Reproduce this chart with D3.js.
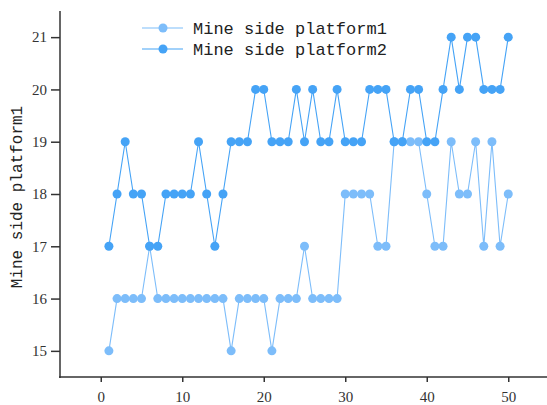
<!DOCTYPE html>
<html>
<head>
<meta charset="utf-8">
<script src="https://cdn.jsdelivr.net/npm/d3@7"></script>
<style>
  html, body { margin: 0; padding: 0; background: #fff; }
  svg { display: block; }
</style>
</head>
<body>
<svg id="chart" width="547" height="405"></svg>
<script>
// Sample index along the x axis
const xValues = d3.range(1, 51);

// Platform readings per sample
const platform1 = [
  15, 16, 16, 16, 16, 17, 16, 16, 16, 16,
  16, 16, 16, 16, 16, 15, 16, 16, 16, 16,
  15, 16, 16, 16, 17, 16, 16, 16, 16, 18,
  18, 18, 18, 17, 17, 19, 19, 19, 19, 18,
  17, 17, 19, 18, 18, 19, 17, 19, 17, 18
];
const platform2 = [
  17, 18, 19, 18, 18, 17, 17, 18, 18, 18,
  18, 19, 18, 17, 18, 19, 19, 19, 20, 20,
  19, 19, 19, 20, 19, 20, 19, 19, 20, 19,
  19, 19, 20, 20, 20, 19, 19, 20, 20, 19,
  19, 20, 21, 20, 21, 21, 20, 20, 20, 21
];

const seriesNames = ["Mine side platform1", "Mine side platform2"];
const seriesColors = ["#7dbdfa", "#45a3f6"];
const xTicks = [0, 10, 20, 30, 40, 50];
const yTicks = [15, 16, 17, 18, 19, 20, 21];
const yLabel = "Mine side platform1";

const svg = d3.select("#chart");

const x = d3.scaleLinear().domain([-5, 55]).range([60, 549]);
const y = d3.scaleLinear().domain([14.5, 21.5]).range([377, 11]);

const axisColor = "#333";
const tickFont = "'Liberation Serif', serif";
const textFont = "'Liberation Mono', monospace";

// Series lines and markers
const seriesData = [platform1, platform2];
const line = d3.line().x((d, i) => x(xValues[i])).y(d => y(d));

seriesData.forEach((vals, s) => {
  const g = svg.append("g");
  g.append("path")
    .datum(vals)
    .attr("fill", "none")
    .attr("stroke", seriesColors[s])
    .attr("stroke-width", 1.1)
    .attr("d", line);
  g.selectAll("circle")
    .data(vals)
    .join("circle")
    .attr("cx", (d, i) => x(xValues[i]))
    .attr("cy", d => y(d))
    .attr("r", 4.5)
    .attr("fill", seriesColors[s]);
});

// X axis: major ticks every 10, minor every 5
const xAxisG = svg.append("g").attr("transform", `translate(0,${y(14.5)})`);
xAxisG.call(d3.axisBottom(x).tickValues(d3.range(-5, 56, 5)).tickSize(4).tickFormat(""))
  .call(g => g.select(".domain").remove());
xAxisG.call(d3.axisBottom(x).tickValues(xTicks).tickSize(5).tickFormat(d3.format("d")))
  .call(g => g.select(".domain").remove());
xAxisG.append("line")
  .attr("x1", x(-5) - 1).attr("x2", x(55))
  .attr("y1", 0).attr("y2", 0);
xAxisG.selectAll("line").attr("stroke", axisColor).attr("stroke-width", 1.5);
xAxisG.selectAll("text")
  .attr("font-family", tickFont).attr("font-size", 15).attr("fill", "#333")
  .attr("dy", "1.1em");

// Y axis: major ticks every 1, minor every 0.5
const yAxisG = svg.append("g").attr("transform", `translate(${x(-5)},0)`);
yAxisG.call(d3.axisLeft(y).tickValues(d3.range(14.5, 21.51, 0.5)).tickSize(4).tickFormat(""))
  .call(g => g.select(".domain").remove());
yAxisG.call(d3.axisLeft(y).tickValues(yTicks).tickSize(9).tickFormat(d3.format("d")))
  .call(g => g.select(".domain").remove());
yAxisG.append("line")
  .attr("x1", 0).attr("x2", 0)
  .attr("y1", y(21.5)).attr("y2", y(14.5) + 1);
yAxisG.selectAll("line").attr("stroke", axisColor).attr("stroke-width", 1.5);
yAxisG.selectAll("text")
  .attr("font-family", tickFont).attr("font-size", 15).attr("fill", "#333")
  .attr("x", -13);

// Y axis title
svg.append("text")
  .attr("transform", `translate(22,${(y(14.5) + y(21.5)) / 2 + 3}) rotate(-90)`)
  .attr("text-anchor", "middle")
  .attr("font-family", textFont)
  .attr("font-size", 16)
  .attr("fill", "#222")
  .text(yLabel);

// Legend
const legend = svg.append("g");
seriesNames.forEach((name, i) => {
  const ly = 28 + i * 21;
  const row = legend.append("g");
  row.append("line")
    .attr("x1", 142).attr("x2", 183)
    .attr("y1", ly).attr("y2", ly)
    .attr("stroke", seriesColors[i]).attr("stroke-width", 1.1);
  row.append("circle")
    .attr("cx", 163).attr("cy", ly).attr("r", 4.5)
    .attr("fill", seriesColors[i]);
  row.append("text")
    .attr("x", 193).attr("y", ly + 6)
    .attr("font-family", textFont)
    .attr("font-size", 17)
    .attr("fill", "#222")
    .text(name);
});
</script>
</body>
</html>
